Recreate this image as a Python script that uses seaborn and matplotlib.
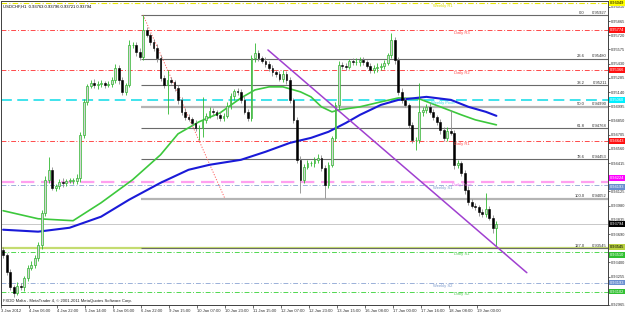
import matplotlib
matplotlib.use("Agg")
import matplotlib.pyplot as plt
import matplotlib.transforms as mtransforms
import seaborn as sns
import numpy as np
import pandas as pd

# ---------------- data ----------------
symbol_info = "USDCHF,H1  0.93763 0.93796 0.93721 0.93794"
footer_text = "FXDD Malta - MetaTrader 4, \u00a9 2001-2011 MetaQuotes Software Corp."

first_open = 0.93530
close = [0.93479, 0.93306, 0.93153, 0.93091, 0.93163, 0.93153, 0.93244, 0.93346, 0.93377, 0.93448,
         0.93581, 0.93907, 0.94244, 0.94346, 0.94162, 0.94183, 0.94224, 0.94213, 0.94234, 0.94234,
         0.94234, 0.94264, 0.94703, 0.95040, 0.95203, 0.95233, 0.95213, 0.95223, 0.95233, 0.95213,
         0.95223, 0.95264, 0.95386, 0.95264, 0.95142, 0.95213, 0.95621, 0.95621, 0.95550, 0.95499,
         0.95774, 0.95723, 0.95652, 0.95590, 0.95488, 0.95284, 0.95213, 0.95264, 0.95244, 0.95182,
         0.95060, 0.94938, 0.94887, 0.94866, 0.94825, 0.94774, 0.94774, 0.94856, 0.94897, 0.94948,
         0.94938, 0.94907, 0.94876, 0.94897, 0.94999, 0.95101, 0.95152, 0.95142, 0.95060, 0.94938,
         0.94876, 0.95488, 0.95539, 0.95488, 0.95458, 0.95427, 0.95386, 0.95346, 0.95325, 0.95274,
         0.95325, 0.95264, 0.95060, 0.94856, 0.94448, 0.94244, 0.94377, 0.94417, 0.94417, 0.94448,
         0.94468, 0.94366, 0.94193, 0.94397, 0.94672, 0.95009, 0.95417, 0.95407, 0.95397, 0.95458,
         0.95448, 0.95448, 0.95468, 0.95448, 0.95407, 0.95366, 0.95386, 0.95397, 0.95407, 0.95437,
         0.95519, 0.95672, 0.95468, 0.95142, 0.95060, 0.95009, 0.94805, 0.94652, 0.94652, 0.94938,
         0.94958, 0.94989, 0.94938, 0.94887, 0.94836, 0.94754, 0.94672, 0.94744, 0.94723, 0.94397,
         0.94417, 0.94315, 0.94142, 0.94020, 0.93979, 0.93969, 0.93918, 0.93897, 0.93948, 0.93856,
         0.93754, 0.93794]

# upper / lower wick lengths in pips (0.0001)
up_wick = [3, 2, 3, 2, 4, 3, 2, 3, 4, 3,
           3, 3, 4, 13, 3, 2, 3, 4, 2, 3,
           3, 4, 3, 3, 2, 3, 4, 3, 3, 2,
           3, 3, 4, 3, 3, 2, 5, 3, 3, 4,
           15, 3, 2, 3, 4, 3, 3, 10, 3, 2,
           3, 3, 4, 3, 2, 3, 3, 23, 3, 4,
           3, 2, 3, 3, 4, 3, 2, 3, 3, 4,
           3, 3, 10, 3, 2, 4, 3, 3, 2, 3,
           4, 3, 3, 2, 3, 4, 3, 3, 2, 3,
           4, 3, 3, 3, 2, 3, 4, 3, 3, 2,
           3, 4, 3, 3, 2, 3, 3, 4, 3, 3,
           2, 7, 3, 3, 4, 3, 2, 3, 3, 29,
           3, 3, 4, 3, 2, 3, 3, 4, 21, 3,
           3, 2, 3, 4, 3, 3, 2, 3, 16, 3,
           3, 3]
dn_wick = [3, 3, 3, 4, 2, 3, 4, 3, 2, 3,
           3, 4, 3, 3, 2, 3, 3, 4, 3, 2,
           3, 3, 4, 3, 3, 2, 3, 4, 3, 3,
           2, 3, 3, 4, 3, 3, 2, 3, 4, 3,
           3, 2, 3, 3, 4, 3, 3, 30, 2, 3,
           4, 3, 3, 2, 3, 3, 12, 9, 3, 2,
           3, 4, 3, 3, 2, 3, 4, 3, 3, 2,
           3, 3, 4, 3, 2, 3, 3, 4, 3, 2,
           3, 4, 3, 3, 3, 13, 3, 2, 3, 4,
           3, 3, 14, 3, 2, 3, 4, 3, 3, 2,
           3, 3, 4, 3, 2, 3, 3, 4, 3, 3,
           2, 3, 4, 3, 3, 2, 3, 3, 10, 3,
           4, 3, 2, 3, 3, 4, 3, 3, 2, 4,
           3, 3, 4, 3, 2, 3, 4, 3, 3, 2,
           5, 19]

# moving averages (bar index, price)
ma_green_idx = [0, 10, 20, 28, 37, 45, 50, 56, 62, 68, 72, 76, 80, 85, 88, 91, 94, 96, 102, 108, 113, 119, 125, 131, 135, 141]
ma_green_val = [0.93928, 0.93846, 0.93826, 0.94009, 0.94244, 0.94499, 0.94713, 0.94836, 0.94927, 0.95080,
                0.95162, 0.95193, 0.95193, 0.95142, 0.95091, 0.94989, 0.94938, 0.94958, 0.94989, 0.95040,
                0.95080, 0.95070, 0.94989, 0.94907, 0.94856, 0.94805]
ma_blue_idx = [0, 10, 19, 28, 36, 45, 53, 59, 68, 75, 82, 88, 93, 98, 102, 108, 113, 121, 128, 133, 138, 141]
ma_blue_val = [0.93734, 0.93714, 0.93754, 0.93867, 0.94040, 0.94213, 0.94346, 0.94397, 0.94448, 0.94530,
               0.94621, 0.94672, 0.94734, 0.94825, 0.94907, 0.95009, 0.95060, 0.95091, 0.95060, 0.94989,
               0.94938, 0.94897]

trend_idx = [75.7, 149.7]
trend_val = [0.95570, 0.93295]
fib_anchor_idx = [40.0, 63.4]
fib_anchor_val = [0.95927, 0.94052]

fib_levels = ["0.0", "23.6", "38.2", "50.0", "61.8", "78.6", "100.0", "127.0"]
fib_prices = [0.95927, 0.95480, 0.95211, 0.94990, 0.94768, 0.94453, 0.94052, 0.93545]

pivot_names = ["Weekly R1", "Daily R3", "Daily R2", "Weekly Pivot", "Daily R1",
               "Daily Pivot", "Weekly S1", "Daily S1", "Weekly S2", "Daily S2"]
pivot_prices = [0.96049, 0.95774, 0.95366, 0.95060, 0.94643,
                0.94224, 0.94193, 0.93510, 0.93193, 0.93102]

bid_price = 0.93794

x_tick_labels = ["3 Jan 2012", "4 Jan 06:00", "4 Jan 22:00", "5 Jan 14:00", "6 Jan 06:00",
                 "6 Jan 22:00", "9 Jan 15:00", "10 Jan 07:00", "10 Jan 23:00", "11 Jan 15:00",
                 "12 Jan 07:00", "12 Jan 23:00", "13 Jan 15:00", "16 Jan 08:00", "17 Jan 00:00",
                 "17 Jan 16:00", "18 Jan 08:00", "19 Jan 00:00"]
y_tick_values = [0.96010, 0.95865, 0.95720, 0.95575, 0.95430, 0.95285, 0.95140, 0.94995,
                 0.94850, 0.94705, 0.94560, 0.94415, 0.94270, 0.94125, 0.93980, 0.93835,
                 0.93690, 0.93545, 0.93400, 0.93255, 0.93110, 0.92965]

# ---------------- styling ----------------
sns.set_theme(style="white")
plt.rcParams["font.family"] = ["Liberation Sans", "DejaVu Sans"]
FS = 3.0

pivot_style = {
    "Weekly R1":    dict(color="#e8e800", ls=(0, (5, 2, 1, 2)), lw=0.8, tc="#d8d800", box="#ffff00", btc="black", dy=0),
    "Daily R3":     dict(color="#ff4a4a", ls=(0, (5, 2, 1, 2)), lw=0.7, tc="#ff4a4a", box="#ff1010", btc="white", dy=0),
    "Daily R2":     dict(color="#ff4a4a", ls=(0, (5, 2, 1, 2)), lw=0.7, tc="#ff4a4a", box="#ff1010", btc="white", dy=0),
    "Weekly Pivot": dict(color="#30e0ea", ls=(0, (6, 3)), lw=1.3, tc="#30d8e6", box="#00f0ff", btc="white", dy=0),
    "Daily R1":     dict(color="#ff4a4a", ls=(0, (5, 2, 1, 2)), lw=0.7, tc="#ff4a4a", box="#ff1010", btc="white", dy=0),
    "Daily Pivot":  dict(color="#ffa0f0", ls=(0, (6, 3)), lw=1.6, tc="#f070f0", box="#ff00ff", btc="white", dy=2.6),
    "Weekly S1":    dict(color="#9ab0d8", ls=(0, (5, 2, 1, 2)), lw=0.7, tc="#7f9ccc", box="#6a8fd0", btc="white", dy=-1.4),
    "Daily S1":     dict(color="#50d850", ls=(0, (5, 2, 1, 2)), lw=0.7, tc="#50c850", box="#30c030", btc="white", dy=-2.4),
    "Weekly S2":    dict(color="#9ab0d8", ls=(0, (5, 2, 1, 2)), lw=0.7, tc="#7f9ccc", box="#6a8fd0", btc="white", dy=0),
    "Daily S2":     dict(color="#50d850", ls=(0, (5, 2, 1, 2)), lw=0.7, tc="#50c850", box="#30c030", btc="white", dy=0),
}

W, H = 625, 313
fig = plt.figure(figsize=(W / 100, H / 100), dpi=100)
ax = fig.add_axes([1 / W, 8 / H, 607 / W, 304 / H])
ax.set_facecolor("white")

n = len(close)
idx = np.arange(n)
opens = np.array([first_open] + close[:-1])
closes = np.array(close)
highs = np.maximum(opens, closes) + np.array(up_wick) * 1e-4
lows = np.minimum(opens, closes) - np.array(dn_wick) * 1e-4

XMIN, XMAX = -0.3, 172.9
for name, p in zip(pivot_names, pivot_prices):
    st = pivot_style[name]
    ax.axhline(p, color=st["color"], ls=st["ls"], lw=st["lw"], zorder=1)

ax.axhline(bid_price, color="#c8c8c8", lw=0.7, zorder=1)
ax.axhline(fib_prices[-1], color="#c4dc70", lw=1.6, zorder=1)

fib_x0 = 39.4
for lvl, p in zip(fib_levels, fib_prices):
    if lvl in ("50.0", "100.0"):
        col, lw = "#b4b4b4", 1.6
    else:
        col, lw = "#6a6a6a", 0.8
    ax.plot([fib_x0, XMAX], [p, p], color=col, lw=lw, zorder=2, solid_capstyle="butt")
    ax.text(166.2, p + 0.00005, lvl, fontsize=FS, ha="right", va="bottom", color="#303030", zorder=6)
    ax.text(172.6, p + 0.00005, f"{p:.5f}", fontsize=FS, ha="right", va="bottom", color="#303030", zorder=6)

ax.plot(fib_anchor_idx, fib_anchor_val, color="#ff6060", lw=0.7, ls=(0, (1.2, 1.6)), zorder=2)

sns.lineplot(x=ma_green_idx, y=ma_green_val, ax=ax, color="#3cc83c", lw=1.2, zorder=3)
sns.lineplot(x=ma_blue_idx, y=ma_blue_val, ax=ax, color="#1a1ad8", lw=1.5, zorder=3)

bull = closes >= opens
wick_colors = np.where(bull, "#2fb82f", "#8a8a8a")
ax.vlines(idx, lows, highs, colors=wick_colors, lw=0.6, zorder=4)
body_bottom = np.minimum(opens, closes)
body_h = np.maximum(np.abs(closes - opens), 0.00003)
ax.bar(idx[bull], body_h[bull], bottom=body_bottom[bull], width=0.55,
       color="#d4d4d4", edgecolor="#2fb82f", linewidth=0.5, zorder=5)
ax.bar(idx[~bull], body_h[~bull], bottom=body_bottom[~bull], width=0.55,
       color="#000000", edgecolor="#000000", linewidth=0.4, zorder=5)

sns.lineplot(x=trend_idx, y=trend_val, ax=ax, color="#a040d0", lw=1.1, zorder=6)

for name, p in zip(pivot_names, pivot_prices):
    st = pivot_style[name]
    xl = 125.7 if name.startswith("Weekly") else 131.0
    ax.annotate(name, (xl, p), xytext=(0, -0.6), textcoords="offset points",
                ha="center", va="top", fontsize=FS, color=st["tc"], zorder=7)

trans = mtransforms.blended_transform_factory(ax.transAxes, ax.transData)
box_items = [(p, pivot_style[nm]["box"], pivot_style[nm]["btc"], pivot_style[nm]["dy"])
             for nm, p in zip(pivot_names, pivot_prices)]
box_items += [(bid_price, "#000000", "white", 0), (fib_prices[-1], "#b8d040", "black", 0.8)]
for p, fc, tc, dy in box_items:
    ax.annotate(f"{p:.5f}", (1.0, p), xycoords=trans, xytext=(1.6, dy), textcoords="offset points",
                fontsize=2.9, ha="left", va="center", color=tc, zorder=8, annotation_clip=False,
                bbox=dict(boxstyle="square,pad=0.2", fc=fc, ec="none"))

ax.text(0.004, 0.988, symbol_info, transform=ax.transAxes, fontsize=FS, ha="left", va="top", color="black")
ax.text(0.004, 0.006, footer_text, transform=ax.transAxes, fontsize=FS, ha="left", va="bottom", color="#202020")

ax.set_xlim(XMIN, XMAX)
ax.set_ylim(0.92969, 0.96070)
ax.yaxis.tick_right()
ax.set_yticks(y_tick_values)
ax.set_yticklabels([f"{v:.5f}" for v in y_tick_values])
ax.set_xticks([8 * k - 0.6 for k in range(len(x_tick_labels))])
ax.set_xticklabels(x_tick_labels, ha="left")
ax.tick_params(axis="y", labelsize=2.9, length=1.5, width=0.5, pad=0.8, colors="#303030", right=True)
ax.tick_params(axis="x", labelsize=FS, length=2, width=0.5, pad=0.6, colors="#303030", bottom=True)
ax.set_xlabel("")
ax.set_ylabel("")
ax.grid(False)
for s in ax.spines.values():
    s.set_color("#404040")
    s.set_linewidth(0.7)

fig.savefig("out.png", dpi=100, facecolor="white")
